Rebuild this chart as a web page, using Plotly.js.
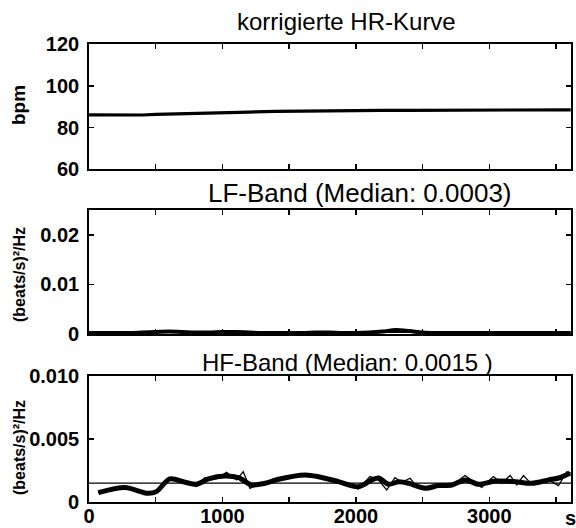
<!DOCTYPE html>
<html>
<head>
<meta charset="utf-8">
<script src="https://cdn.plot.ly/plotly-3.0.1.min.js"></script>
<style>html,body{margin:0;padding:0;background:#fff;}#chart{width:576px;height:528px;}</style>
</head>
<body>
<div id="chart"></div>
<script>
// ---- Data ----
const hrTime = [0,100,200,300,400,500,600,700,800,900,1000,1200,1400,1600,1800,2000,2200,2400,2600,2800,3000,3200,3400,3610];
const hrBpm  = [86.1,86.0,85.9,85.9,86.0,86.3,86.5,86.7,86.8,87.0,87.1,87.4,87.7,87.9,88.0,88.1,88.2,88.2,88.3,88.3,88.3,88.4,88.4,88.5];

const lfTime = [0,100,200,300,400,500,600,700,800,900,1000,1100,1200,1300,1400,1500,1600,1700,1800,1900,2000,2100,2200,2300,2400,2500,2600,2700,2800,2900,3000,3100,3200,3300,3400,3500,3610];
const lfPower = [0.0002,0.0002,0.0002,0.0002,0.0003,0.0004,0.0005,0.0004,0.0003,0.0003,0.0004,0.0004,0.0003,0.0002,0.0002,0.0002,0.0002,0.0003,0.0003,0.0002,0.0002,0.0003,0.0005,0.0008,0.0006,0.0003,0.0002,0.0002,0.0002,0.0002,0.0002,0.0002,0.0002,0.0002,0.0002,0.0002,0.0002];
const lfMedian = 0.0003;

const hfTimeSmooth = [70,270,440,505,605,720,805,895,1020,1120,1220,1320,1420,1620,1720,1870,2020,2120,2170,2245,2320,2395,2520,2620,2720,2820,2920,3045,3195,3320,3445,3520,3605];
const hfPowerSmooth = [0.00074,0.00114,0.00069,0.00082,0.00183,0.00156,0.0014,0.00183,0.00206,0.00193,0.00135,0.00148,0.0018,0.00214,0.002,0.00161,0.00121,0.00175,0.0019,0.0014,0.0016,0.00148,0.00109,0.0013,0.00135,0.00175,0.0014,0.00166,0.00161,0.00148,0.00175,0.0019,0.00228];

const hfTimeRaw = [68,268,443,505,605,718,805,868,955,1031,1106,1156,1206,1268,1418,1618,1718,1868,2018,2106,2168,2231,2293,2343,2406,2468,2543,2718,2818,2881,2943,3031,3093,3156,3206,3256,3318,3443,3518,3581,3610];
const hfPowerRaw = [0.00074,0.00114,0.00069,0.00077,0.00188,0.00161,0.00122,0.00193,0.00183,0.00235,0.00175,0.0024,0.00108,0.0014,0.00177,0.00214,0.00204,0.00161,0.00103,0.00201,0.00175,0.00095,0.00193,0.00156,0.00188,0.00108,0.00114,0.0013,0.0021,0.00161,0.00116,0.00201,0.00148,0.0021,0.00135,0.0021,0.0014,0.00175,0.0013,0.0024,0.00228];
const hfMedian = 0.0015;

const xRange = [0, 3612];
const xTickVals = [0,500,1000,1500,2000,2500,3000,3500];
const xTickText = ['0','','1000','','2000','','3000',''];
const xUnit = 's';

const titles = ['korrigierte HR-Kurve','LF-Band (Median: 0.0003)','HF-Band (Median: 0.0015 )'];
const yTitles = ['bpm','(beats/s)²/Hz','(beats/s)²/Hz'];

// ---- Chart ----
const FONT = 'Liberation Sans, Arial, sans-serif';
const tickFont = {family: FONT, size: 20, color: '#000', weight: 'bold'};

const traces = [
  {x: hrTime, y: hrBpm, xaxis: 'x', yaxis: 'y', mode: 'lines', line: {color: '#000', width: 3.2}},
  {x: lfTime, y: lfTime.map(() => lfMedian), xaxis: 'x2', yaxis: 'y2', mode: 'lines', line: {color: '#000', width: 1}},
  {x: lfTime, y: lfPower, xaxis: 'x2', yaxis: 'y2', mode: 'lines', line: {color: '#000', width: 4, shape: 'spline'}},
  {x: [0, 3612], y: [hfMedian, hfMedian], xaxis: 'x3', yaxis: 'y3', mode: 'lines', line: {color: '#000', width: 1.2}},
  {x: hfTimeRaw, y: hfPowerRaw, xaxis: 'x3', yaxis: 'y3', mode: 'lines', line: {color: '#000', width: 1.3}},
  {x: hfTimeSmooth, y: hfPowerSmooth, xaxis: 'x3', yaxis: 'y3', mode: 'lines', line: {color: '#000', width: 5, shape: 'spline', smoothing: 0.8}}
];

function xa(anchor, showLabels) {
  return {
    anchor: anchor, range: xRange, tickmode: 'array', tickvals: xTickVals,
    ticktext: showLabels ? xTickText : xTickVals.map(() => ''),
    showticklabels: showLabels, ticks: 'inside', ticklen: 5, tickwidth: 1.5, tickcolor: '#000',
    showline: true, linecolor: '#000', linewidth: 1.8, mirror: 'ticks', showgrid: false, zeroline: false,
    tickfont: tickFont, ticklabelstandoff: -5
  };
}
function ya(anchor, dom, range, vals, text) {
  return {
    anchor: anchor, domain: dom, range: range, tickmode: 'array', tickvals: vals, ticktext: text,
    ticks: 'inside', ticklen: 5, tickwidth: 1.5, tickcolor: '#000',
    showline: true, linecolor: '#000', linewidth: 1.8, mirror: 'ticks', showgrid: false, zeroline: false,
    tickfont: tickFont, ticklabelstandoff: 4
  };
}

const W = 482, H = 458, L = 89, B = 26, T = 44;
const px = v => (v - L) / W;
const py = v => (528 - B - v) / H;

const annFont = {family: FONT, size: 24, color: '#000'};
const yFont = {family: FONT, size: 16, color: '#000', weight: 'bold'};
const annotations = [
  {text: titles[0], x: px(346), y: py(21), xref: 'paper', yref: 'paper', showarrow: false, xanchor: 'center', yanchor: 'middle', font: annFont},
  {text: titles[1], x: px(360), y: py(193), xref: 'paper', yref: 'paper', showarrow: false, xanchor: 'center', yanchor: 'middle', font: {family: FONT, size: 26, color: '#000'}},
  {text: titles[2], x: px(347), y: py(362), xref: 'paper', yref: 'paper', showarrow: false, xanchor: 'center', yanchor: 'middle', font: annFont},
  {text: yTitles[0], x: px(18), y: py(105), xref: 'paper', yref: 'paper', showarrow: false, xanchor: 'center', yanchor: 'middle', textangle: -90, font: {family: FONT, size: 19, color: '#000', weight: 'bold'}},
  {text: yTitles[1], x: px(19), y: py(275), xref: 'paper', yref: 'paper', showarrow: false, xanchor: 'center', yanchor: 'middle', textangle: -90, font: yFont},
  {text: yTitles[2], x: px(19), y: py(448), xref: 'paper', yref: 'paper', showarrow: false, xanchor: 'center', yanchor: 'middle', textangle: -90, font: yFont},
  {text: xUnit, x: px(570), y: py(531), xref: 'paper', yref: 'paper', showarrow: false, xanchor: 'center', yanchor: 'bottom', font: tickFont}
];

const layout = {
  width: 576, height: 528,
  margin: {l: L, r: 576 - L - W, t: T, b: B, pad: 0},
  paper_bgcolor: '#fff', plot_bgcolor: '#fff',
  showlegend: false,
  font: {family: FONT, color: '#000'},
  xaxis: xa('y', false),
  xaxis2: xa('y2', false),
  xaxis3: xa('y3', true),
  yaxis: ya('x', [py(169.3), 1], [60, 120], [60,80,100,120], ['60','80','100','120']),
  yaxis2: ya('x2', [py(334), py(210)], [0, 0.025], [0,0.01,0.02], ['0','0.01','0.02']),
  yaxis3: ya('x3', [0, py(375.7)], [0, 0.01], [0,0.005,0.01], ['0','0.005','0.010']),
  annotations: annotations
};

Plotly.newPlot('chart', traces, layout, {staticPlot: true, displayModeBar: false});
</script>
</body>
</html>
